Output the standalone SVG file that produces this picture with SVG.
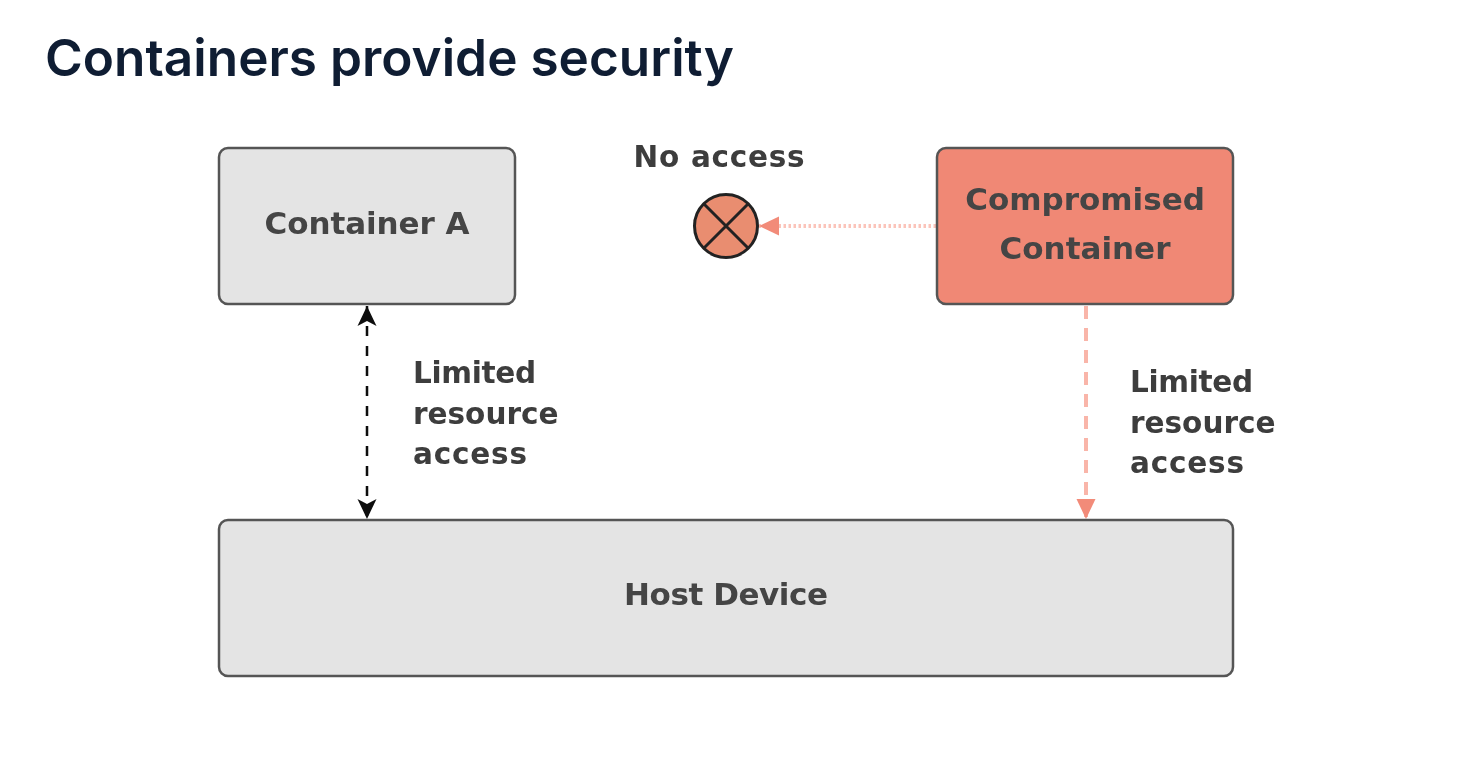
<svg xmlns="http://www.w3.org/2000/svg" width="1480" height="760" viewBox="0 0 1480 760">
<style>
.box{stroke:#555;stroke-width:2.5}
.t{font-family:"DejaVu Sans",sans-serif;font-weight:700;font-size:31px;fill:#444}
.c{text-anchor:middle}
.l{font-family:"DejaVu Sans",sans-serif;font-weight:700;font-size:29.5px;fill:#3c3c3c}
</style>
<defs>
<filter id="soft" x="0" y="0" width="1480" height="760" filterUnits="userSpaceOnUse"><feGaussianBlur stdDeviation="0.7"/></filter>
<marker id="ab" markerUnits="userSpaceOnUse" markerWidth="22" markerHeight="22" refX="20" refY="11" orient="auto-start-reverse"><path d="M0 1.5L20 11L0 20.5L5 11Z" fill="#111"/></marker>
<marker id="ar" markerUnits="userSpaceOnUse" markerWidth="24" markerHeight="22" refX="20" refY="11" orient="auto"><path d="M0 1.5L20 11L0 20.5Z" fill="#f28b79"/></marker>
</defs>
<rect width="1480" height="760" fill="#fff"/>
<text x="45" y="76" font-family="Inter,sans-serif" font-weight="600" font-size="51" fill="#0f1d33" textLength="689" lengthAdjust="spacingAndGlyphs">Containers provide security</text>
<g filter="url(#soft)">
<g id="connectors" fill="none">
<path d="M367 306V519" stroke="#111" stroke-width="2.5" stroke-dasharray="10 10" marker-start="url(#ab)" marker-end="url(#ab)"/>
<path d="M1086 306V519" stroke="#f9b5a9" stroke-width="4" stroke-dasharray="13 9" marker-end="url(#ar)"/>
<path d="M936 226H759" stroke="#fbc4ba" stroke-width="4" stroke-dasharray="2.5 2.5" marker-end="url(#ar)"/>
</g>
<g id="container-a"><rect class="box" x="219" y="148" width="296" height="156" rx="9" fill="#e4e4e4"/><text class="t c" x="367" y="234" textLength="205">Container A</text></g>
<g id="compromised"><rect class="box" x="937" y="148" width="296" height="156" rx="9" fill="#f08875"/><text class="t c" x="1085" y="210">Compromised</text><text class="t c" x="1085" y="259">Container</text></g>
<g id="host"><rect class="box" x="219" y="520" width="1014" height="156" rx="9" fill="#e4e4e4"/><text class="t c" x="726" y="605" textLength="204">Host Device</text></g>
<g id="no-access"><circle cx="726" cy="226" r="31.5" fill="#e98d70" stroke="#222" stroke-width="3"/><path d="M704 204L748 248M748 204L704 248" stroke="#222" stroke-width="3"/><text class="l c" x="719" y="167" textLength="171">No access</text></g>
<g id="label-left"><text class="l" x="413" y="383" textLength="123">Limited</text><text class="l" x="413" y="424">resource</text><text class="l" x="413" y="464" textLength="114">access</text></g>
<g id="label-right"><text class="l" x="1130" y="392" textLength="123">Limited</text><text class="l" x="1130" y="433">resource</text><text class="l" x="1130" y="473" textLength="114">access</text></g>
</g>
</svg>
